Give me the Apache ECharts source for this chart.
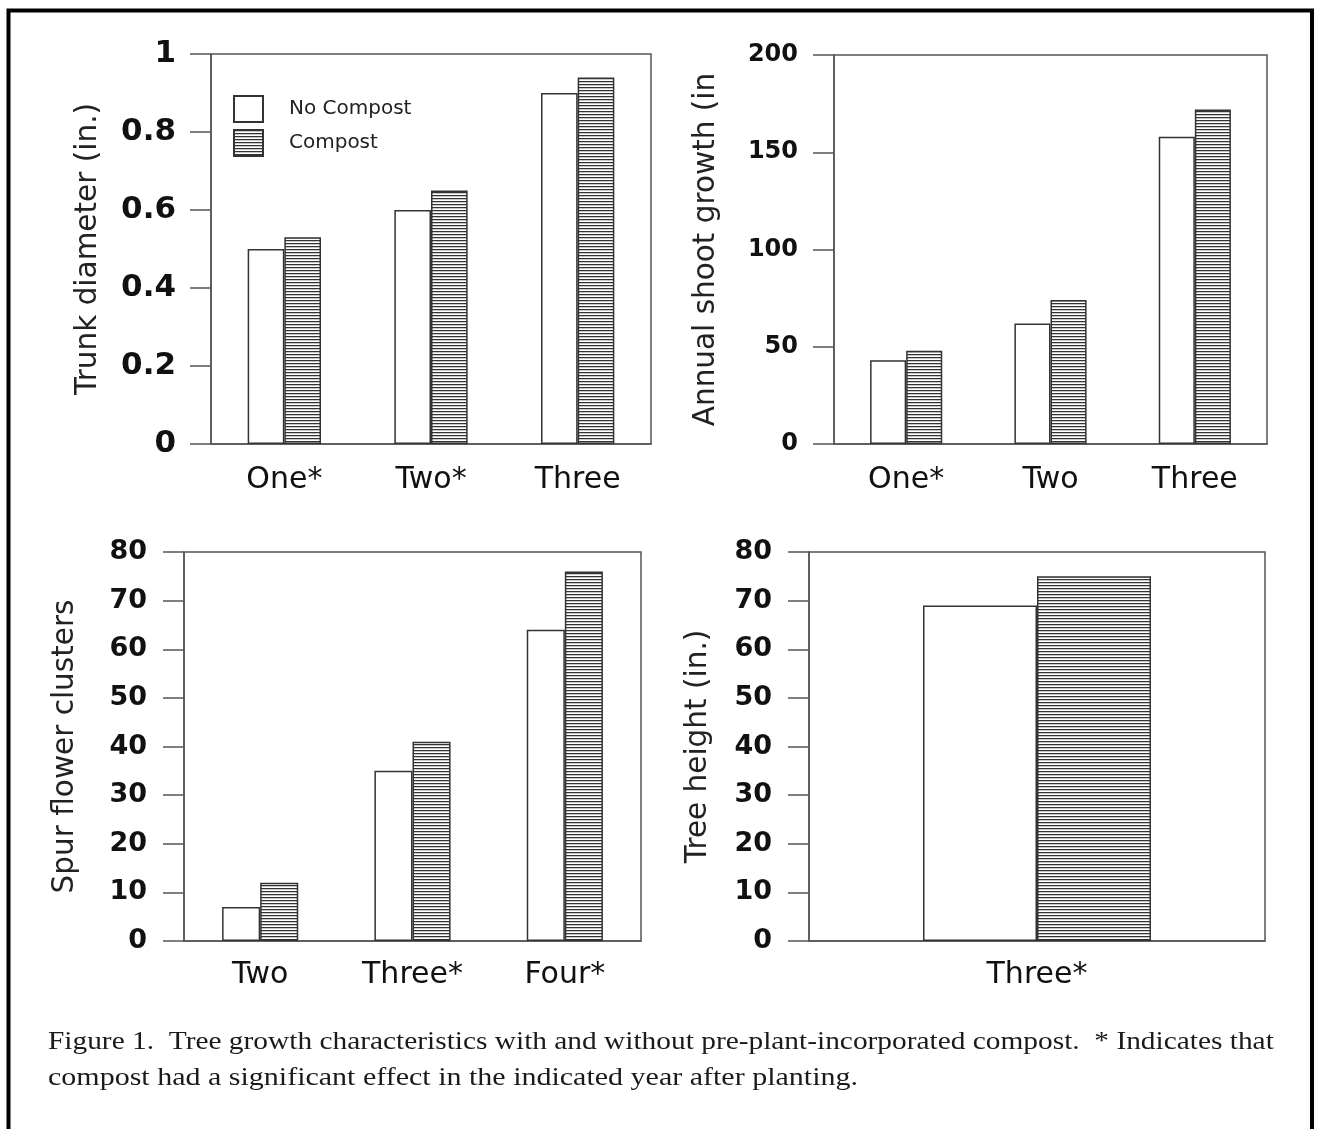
<!DOCTYPE html>
<html>
<head>
<meta charset="utf-8">
<title>Tree growth characteristics</title>
<script src="https://cdn.jsdelivr.net/npm/echarts@6/dist/echarts.min.js"></script>
<style>
  html, body { margin: 0; padding: 0; background: #fff; }
  #chart { width: 1322px; height: 1129px; }
</style>
</head>
<body>
<div id="chart"></div>
<script>
// Trunk diameter (in.) by year after planting
const trunkYears = ['One*', 'Two*', 'Three'];
const trunkNoCompost = [0.50, 0.60, 0.90];
const trunkCompost = [0.53, 0.65, 0.94];

// Annual shoot growth (in.)
const shootYears = ['One*', 'Two', 'Three'];
const shootNoCompost = [43, 62, 158];
const shootCompost = [48, 74, 172];

// Spur flower clusters
const spurYears = ['Two', 'Three*', 'Four*'];
const spurNoCompost = [7, 35, 64];
const spurCompost = [12, 41, 76];

// Tree height (in.)
const heightYears = ['Three*'];
const heightNoCompost = [69];
const heightCompost = [75];

// Horizontal-line hatch used for the compost bars
function hatchPattern() {
  const c = document.createElement('canvas');
  c.width = 4; c.height = 3;
  const ctx = c.getContext('2d');
  ctx.fillStyle = '#ffffff';
  ctx.fillRect(0, 0, 4, 3);
  ctx.fillStyle = '#333333';
  ctx.fillRect(0, 0, 4, 1);
  ctx.fillStyle = '#c8c8c8';
  ctx.fillRect(0, 1, 4, 1);
  return c;
}
const hatch = { image: hatchPattern(), repeat: 'repeat' };

const sans = '"DejaVu Sans", Verdana, sans-serif';
const serif = '"Liberation Serif", "Times New Roman", serif';
const lineCol = '#555';

const grids = [
  { left: 211, top: 54, width: 440, height: 390 },
  { left: 834, top: 55, width: 433, height: 389 },
  { left: 184, top: 552, width: 457, height: 389 },
  { left: 809, top: 552, width: 456, height: 389 }
].map(g => Object.assign({ show: true, borderColor: lineCol, borderWidth: 1.5, backgroundColor: 'transparent' }, g));

function xAxis(idx, cats, margin) {
  return {
    type: 'category', gridIndex: idx, data: cats,
    axisLine: { lineStyle: { color: lineCol, width: 1.5 } },
    axisTick: { show: false },
    axisLabel: { color: '#111', fontFamily: sans, fontSize: 30, margin: margin },
    splitLine: { show: false }
  };
}

function yAxis(idx, name, max, interval, gap, labelSize, labelMargin) {
  return {
    type: 'value', gridIndex: idx, min: 0, max: max, interval: interval,
    name: name, nameLocation: 'middle', nameGap: gap,
    nameTextStyle: { color: '#222', fontFamily: sans, fontSize: 29.5 },
    axisLine: { show: true, lineStyle: { color: lineCol, width: 1.5 } },
    axisTick: { show: true, inside: false, length: 21, lineStyle: { color: lineCol, width: 1.5 } },
    axisLabel: { color: '#111', fontFamily: sans, fontSize: labelSize, fontWeight: 'bold', margin: labelMargin },
    splitLine: { show: false }
  };
}

function pair(idx, noComp, comp) {
  return [
    {
      name: 'No Compost', type: 'bar', xAxisIndex: idx, yAxisIndex: idx,
      data: noComp, barWidth: '25%', barGap: '0%',
      itemStyle: { color: '#ffffff', borderColor: '#333', borderWidth: 1.5 },
      emphasis: { disabled: true }
    },
    {
      name: 'Compost', type: 'bar', xAxisIndex: idx, yAxisIndex: idx,
      data: comp, barWidth: '25%', barGap: '0%',
      itemStyle: { color: hatch, borderColor: '#333', borderWidth: 1.5 },
      emphasis: { disabled: true }
    }
  ];
}

const option = {
  animation: false,
  backgroundColor: '#ffffff',
  grid: grids,
  legend: {
    orient: 'vertical', left: 233, top: 95, padding: 0,
    icon: 'rect',
    itemWidth: 29, itemHeight: 26, itemGap: 6,
    data: ['No Compost', 'Compost'],
    textStyle: { color: '#222', fontFamily: sans, fontSize: 20, padding: [0, 0, 0, 21] },
    selectedMode: false
  },
  xAxis: [
    xAxis(0, trunkYears, 21),
    xAxis(1, shootYears, 21),
    xAxis(2, spurYears, 19),
    xAxis(3, heightYears, 19)
  ],
  yAxis: [
    yAxis(0, 'Trunk diameter (in.)', 1, 0.2, 108, 31, 35),
    yAxis(1, 'Annual shoot growth (in', 200, 50, 113, 24, 36),
    yAxis(2, 'Spur flower clusters', 80, 10, 104, 27, 37),
    yAxis(3, 'Tree height (in.)', 80, 10, 96, 27, 37)
  ],
  series: [].concat(
    pair(0, trunkNoCompost, trunkCompost),
    pair(1, shootNoCompost, shootCompost),
    pair(2, spurNoCompost, spurCompost),
    pair(3, heightNoCompost, heightCompost)
  ),
  graphic: [
    {
      type: 'rect', silent: true,
      shape: { x: 8.5, y: 10.5, width: 1303.5, height: 1200 },
      style: { fill: 'none', stroke: '#000', lineWidth: 4 }
    },
    {
      type: 'text', left: 48, top: 1030, silent: true, scaleX: 1.175,
      style: {
        text: 'Figure 1.  Tree growth characteristics with and without pre-plant-incorporated compost.  * Indicates that',
        fill: '#1a1a1a', font: '25px ' + serif
      }
    },
    {
      type: 'text', left: 48, top: 1066, silent: true, scaleX: 1.2,
      style: {
        text: 'compost had a significant effect in the indicated year after planting.',
        fill: '#1a1a1a', font: '25px ' + serif
      }
    }
  ]
};

const chart = echarts.init(document.getElementById('chart'), null, { renderer: 'canvas' });
chart.setOption(option);
</script>
</body>
</html>
